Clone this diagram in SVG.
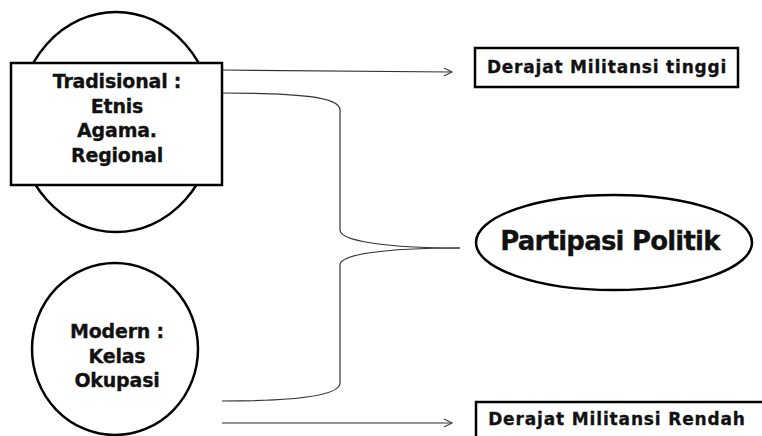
<svg xmlns="http://www.w3.org/2000/svg" width="762" height="436" viewBox="0 0 762 436">
<style>
.node{fill:#fff;stroke:#000;stroke-width:2.5}
.t{font-family:"DejaVu Sans",sans-serif;font-weight:bold;fill:#111;text-anchor:middle;stroke:#111;stroke-width:0.3}
.c{fill:none;stroke:#333;stroke-width:1.2}
</style>
<defs>
<marker id="arr" markerWidth="12" markerHeight="12" refX="9" refY="5" orient="auto" markerUnits="userSpaceOnUse">
<path d="M1,1 L9,5 L1,9" fill="none" stroke="#444" stroke-width="1.2"/>
</marker>
</defs>
<rect width="762" height="436" fill="#fff"/>
<g id="connectors">
<path class="c" d="M222,70 L452,72" marker-end="url(#arr)"/>
<path class="c" d="M222,423 L452,423" marker-end="url(#arr)"/>
<path class="c" d="M222,93 C300,93 340,97 340,110 L340,230 C340,240 380,248 460,248"/>
<path class="c" d="M460,248 C380,248 340,255 340,265 L340,383 C340,395 300,401 222,401"/>
</g>
<g id="tradisional">
<ellipse class="node" cx="116" cy="122" rx="98" ry="110"/>
<rect class="node" x="11" y="63" width="211" height="122"/>
<text class="t" font-size="19" letter-spacing="-0.2" x="117" y="88">Tradisional :</text>
<text class="t" font-size="19" letter-spacing="-0.2" x="117" y="113">Etnis</text>
<text class="t" font-size="19" letter-spacing="-0.2" x="117" y="137">Agama.</text>
<text class="t" font-size="19" letter-spacing="-0.2" x="117" y="162">Regional</text>
</g>
<g id="modern">
<ellipse class="node" cx="115" cy="349" rx="83" ry="86" stroke-width="3"/>
<text class="t" font-size="19" letter-spacing="-0.2" x="117" y="338">Modern :</text>
<text class="t" font-size="19" letter-spacing="-0.2" x="117" y="363">Kelas</text>
<text class="t" font-size="19" letter-spacing="-0.2" x="117" y="387">Okupasi</text>
</g>
<g id="partisipasi">
<ellipse class="node" cx="614" cy="242.5" rx="138" ry="47.5"/>
<text class="t" font-size="26" letter-spacing="-0.8" x="610" y="250">Partipasi Politik</text>
</g>
<g id="tinggi">
<rect class="node" x="475" y="48" width="263" height="39"/>
<text class="t" font-size="17" letter-spacing="0.8" x="607" y="73">Derajat Militansi tinggi</text>
</g>
<g id="rendah">
<rect class="node" x="476" y="402" width="300" height="50"/>
<text class="t" font-size="17" letter-spacing="0.85" x="617" y="425">Derajat Militansi Rendah</text>
</g>
</svg>
